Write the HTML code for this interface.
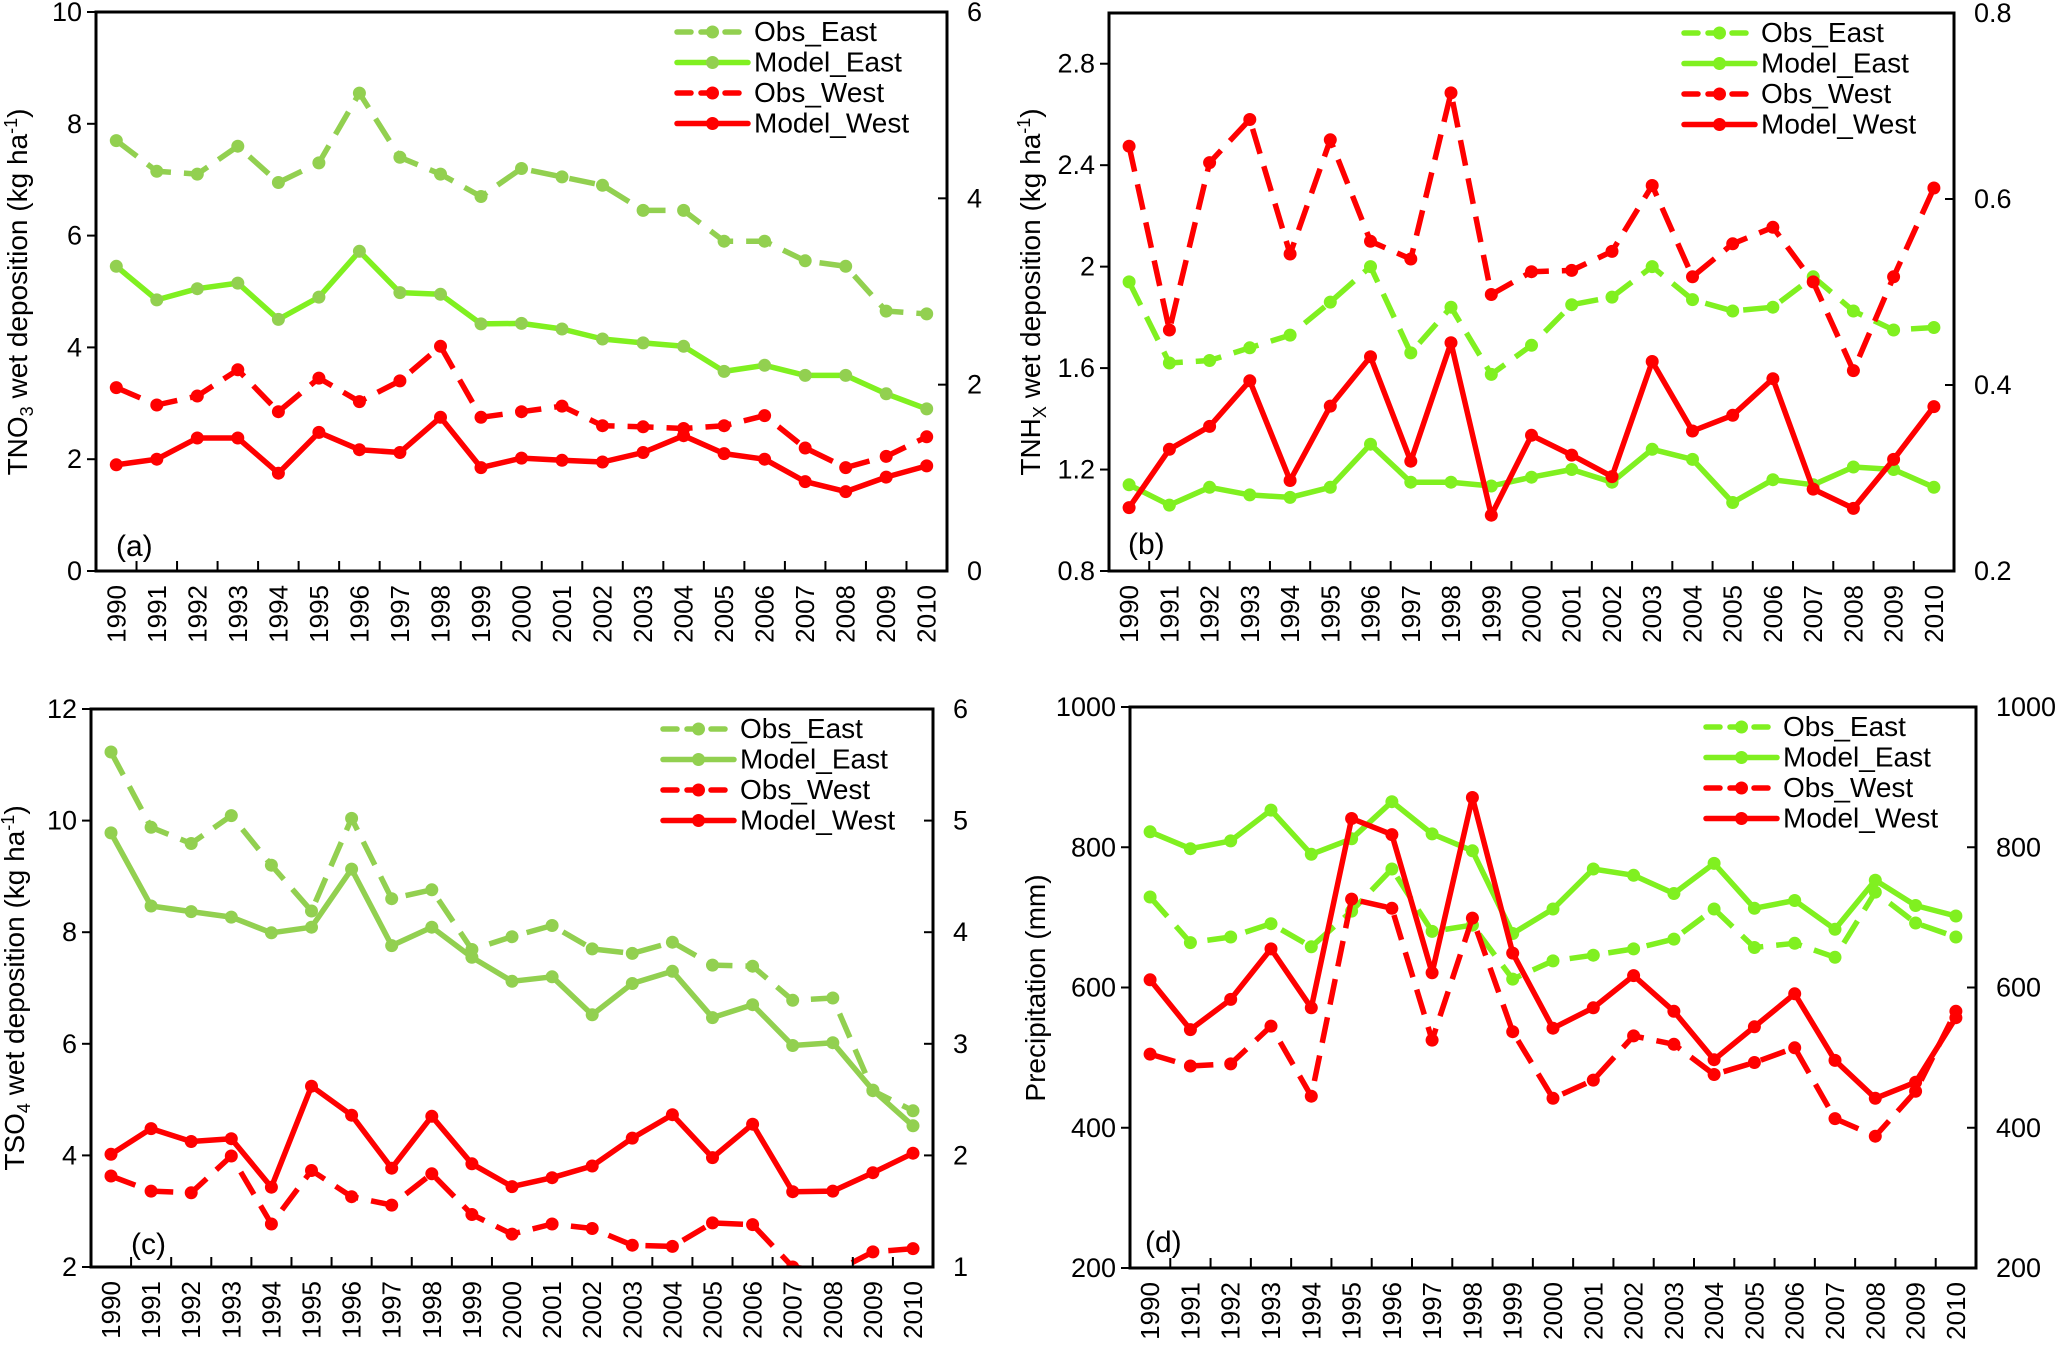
<!DOCTYPE html>
<html><head><meta charset="utf-8"><style>
html,body{margin:0;padding:0;background:#fff}
svg{display:block;font-family:"Liberation Sans",Arial,sans-serif}
</style></head><body>
<svg id="fig" width="2067" height="1348" viewBox="0 0 2067 1348" xmlns="http://www.w3.org/2000/svg"></svg>
<script>
const years = ["1990","1991","1992","1993","1994","1995","1996","1997","1998","1999","2000","2001","2002","2003","2004","2005","2006","2007","2008","2009","2010"];
const seriesNames = ["Obs_East","Model_East","Obs_West","Model_West"];
// Panel (a) TNO3
const aObsEast   = [7.7,7.15,7.1,7.6,6.95,7.3,8.55,7.4,7.1,6.7,7.2,7.05,6.9,6.45,6.45,5.9,5.9,5.55,5.45,4.65,4.6];
const aModelEast = [5.45,4.85,5.05,5.15,4.5,4.9,5.72,4.98,4.95,4.42,4.43,4.33,4.15,4.08,4.02,3.57,3.68,3.5,3.5,3.17,2.9];
const aObsWest   = [3.28,2.97,3.13,3.6,2.85,3.45,3.03,3.4,4.02,2.75,2.85,2.95,2.6,2.58,2.55,2.6,2.78,2.2,1.85,2.05,2.4];
const aModelWest = [1.9,2.0,2.38,2.38,1.75,2.48,2.17,2.12,2.75,1.85,2.02,1.98,1.95,2.12,2.42,2.1,2.0,1.6,1.42,1.68,1.88];
const aLeftTicks = ["0","2","4","6","8","10"];
const aRightTicks = ["0","2","4","6"];
// Panel (b) TNHx
const bObsEast   = [1.94,1.62,1.63,1.68,1.73,1.86,2.0,1.66,1.84,1.575,1.69,1.85,1.88,2.0,1.87,1.825,1.84,1.96,1.825,1.75,1.76];
const bModelEast = [1.14,1.06,1.13,1.10,1.09,1.13,1.30,1.15,1.15,1.135,1.17,1.2,1.15,1.28,1.24,1.07,1.16,1.14,1.21,1.2,1.13];
const bObsWest   = [2.475,1.75,2.41,2.58,2.05,2.5,2.1,2.03,2.685,1.89,1.98,1.985,2.06,2.32,1.96,2.09,2.155,1.94,1.59,1.96,2.31];
const bModelWest = [1.05,1.28,1.37,1.55,1.157,1.45,1.645,1.233,1.70,1.02,1.335,1.257,1.172,1.626,1.352,1.414,1.558,1.123,1.047,1.24,1.448];
const bLeftTicks = ["0.8","1.2","1.6","2","2.4","2.8"];
const bRightTicks = ["0.2","0.4","0.6","0.8"];
// Panel (c) TSO4
const cObsEast   = [11.23,9.88,9.59,10.09,9.2,8.38,10.04,8.6,8.76,7.69,7.92,8.12,7.7,7.62,7.82,7.41,7.39,6.78,6.82,5.16,4.8];
const cModelEast = [9.78,8.47,8.37,8.27,7.99,8.09,9.13,7.76,8.09,7.55,7.12,7.2,6.52,7.08,7.3,6.47,6.7,5.97,6.02,5.17,4.53];
const cObsWest   = [3.63,3.36,3.33,3.99,2.77,3.73,3.26,3.11,3.67,2.94,2.59,2.77,2.69,2.39,2.37,2.79,2.76,2.0,1.9,2.27,2.33];
const cModelWest = [4.02,4.48,4.25,4.3,3.43,5.24,4.72,3.77,4.7,3.85,3.44,3.6,3.81,4.31,4.73,3.96,4.56,3.35,3.36,3.69,4.04];
const cLeftTicks = ["2","4","6","8","10","12"];
const cRightTicks = ["1","2","3","4","5","6"];
// Panel (d) Precipitation
const dObsEast   = [729,664,672,691,658,709,769,680,689,612,638,646,655,669,712,657,663,643,736,692,672];
const dModelEast = [822,798,809,853,790,812,865,819,795,677,712,769,760,734,777,713,724,683,753,717,702];
const dObsWest   = [505,488,491,545,445,726,713,525,699,537,442,468,531,519,476,493,514,413,388,452,566];
const dModelWest = [611,540,583,655,571,841,818,621,871,649,542,571,617,566,497,544,591,496,442,465,557];
const dLeftTicks = ["200","400","600","800","1000"];
const dRightTicks = ["200","400","600","800","1000"];

const NS = "http://www.w3.org/2000/svg";
const fig = document.getElementById("fig");
function mk(tag, attrs, parent){
  const e = document.createElementNS(NS, tag);
  for (const k in attrs) e.setAttribute(k, attrs[k]);
  (parent||fig).appendChild(e);
  return e;
}
const RED = "#ff0000";
function panel(p){
  const g = mk("g", {});
  
  
  const L=p.L, R=p.R, T=p.T, B=p.B;
  const n = years.length, bw = (R-L)/n;
  const xs = i => L + bw*(i+0.5);
  const ys = v => B - (v - p.ymin)/(p.ymax - p.ymin)*(B-T);
  const clip = mk("clipPath", {id:"clip"+p.id}, g);
  mk("rect", {x:L, y:T-8, width:R-L, height:B-T+8}, clip);
  const series = [p.obsE, p.modE, p.obsW, p.modW];
  const cols = [p.cObsE, p.cModE, RED, RED];
  const mcols = [p.cObsE, p.mModE, RED, RED];
  const dashed = [true,false,true,false];
  const sg = mk("g", {"clip-path":"url(#clip"+p.id+")"}, g);
  for (let s=0;s<4;s++){
    const d = series[s].map((v,i)=>(i?"L":"M")+xs(i).toFixed(1)+","+ys(v).toFixed(1)).join("");
    const path = mk("path", {d:d, fill:"none", stroke:cols[s], "stroke-width":5.5, "stroke-linejoin":"round",
      "stroke-dasharray": dashed[s] ? "26,13" : "none"}, sg);
    
    
    series[s].forEach((v,i)=>{
      const c = mk("circle", {cx:xs(i).toFixed(1), cy:ys(v).toFixed(1), r:6.5, fill:mcols[s]}, sg);
      
      
    });
  }
  const fr = mk("rect", {x:L, y:T, width:R-L, height:B-T, fill:"none", stroke:"#000", "stroke-width":3}, g);
  
  
  for (let i=1;i<n;i++) mk("line",{x1:L+bw*i,x2:L+bw*i,y1:B,y2:B-10,stroke:"#000","stroke-width":2},g);
  years.forEach((y,i)=>{
    const t = mk("text",{x:0,y:0,"font-size":26,"text-anchor":"end",transform:"translate("+(xs(i)+9).toFixed(1)+","+(B+14)+") rotate(-90)"},g);
    t.textContent = y;
    
    
  });
  p.lt.forEach(lab=>{
    const yy = ys(parseFloat(lab));
    mk("line",{x1:L-9,x2:L,y1:yy,y2:yy,stroke:"#000","stroke-width":2},g);
    const t = mk("text",{x:L-14,y:yy+9,"font-size":27,"text-anchor":"end"},g);
    t.textContent = lab;
    
    
  });
  p.rt.forEach(lab=>{
    const yy = B - (parseFloat(lab)-p.rmin)/(p.rmax-p.rmin)*(B-T);
    mk("line",{x1:R-9,x2:R,y1:yy,y2:yy,stroke:"#000","stroke-width":2},g);
    const t = mk("text",{x:R+20,y:yy+9,"font-size":27,"text-anchor":"start"},g);
    t.textContent = lab;
    
    
  });
  const yt = mk("text",{x:0,y:0,"font-size":28,"text-anchor":"middle",transform:"translate("+p.tx+","+p.ty+") rotate(-90)"},g);
  yt.innerHTML = p.title;
  
  
  const pl = mk("text",{x:p.lx,y:p.ly,"font-size":30},g);
  pl.textContent = "(" + p.id + ")";
  
  
  const lgX1 = R - 270, lgX2 = R - 199, txX = R - 193;
  for (let s=0;s<4;s++){
    const yy = T + 20 + s*30.5;
    const le = mk("g",{},g);
    
    
    mk("line",{x1:lgX1,x2:lgX2,y1:yy,y2:yy,stroke:cols[s],"stroke-width":5.5,"stroke-linecap":"round","stroke-dasharray":dashed[s]?"14,10":"none"},le);
    mk("circle",{cx:(lgX1+lgX2)/2,cy:yy,r:6.5,fill:mcols[s]},le);
    const t = mk("text",{x:txX,y:yy+9,"font-size":28},le);
    t.textContent = seriesNames[s];
  }
}
const LG = "#92d050", BG = "#80f020";
panel({id:"a", L:96, R:947, T:12, B:571, ymin:0, ymax:10, rmin:0, rmax:6,
  obsE:aObsEast, modE:aModelEast, obsW:aObsWest, modW:aModelWest, lt:aLeftTicks, rt:aRightTicks,
  cObsE:LG, cModE:BG, mModE:LG, tx:27, ty:292, lx:116, ly:556,
  title:'TNO<tspan font-size="18" dy="6">3</tspan><tspan dy="-6"> wet deposition (kg ha</tspan><tspan font-size="18" dy="-10">-1</tspan><tspan dy="10">)</tspan>'});
panel({id:"b", L:1109, R:1954, T:13, B:571, ymin:0.8, ymax:3.0, rmin:0.2, rmax:0.8,
  obsE:bObsEast, modE:bModelEast, obsW:bObsWest, modW:bModelWest, lt:bLeftTicks, rt:bRightTicks,
  cObsE:BG, cModE:BG, mModE:BG, tx:1040, ty:292, lx:1128, ly:554,
  title:'TNH<tspan font-size="18" dy="6">X</tspan><tspan dy="-6"> wet deposition (kg ha</tspan><tspan font-size="18" dy="-10">-1</tspan><tspan dy="10">)</tspan>'});
panel({id:"c", L:91, R:933, T:709, B:1267, ymin:2, ymax:12, rmin:1, rmax:6,
  obsE:cObsEast, modE:cModelEast, obsW:cObsWest, modW:cModelWest, lt:cLeftTicks, rt:cRightTicks,
  cObsE:LG, cModE:LG, mModE:LG, tx:24, ty:988, lx:131, ly:1254,
  title:'TSO<tspan font-size="18" dy="6">4</tspan><tspan dy="-6"> wet deposition (kg ha</tspan><tspan font-size="18" dy="-10">-1</tspan><tspan dy="10">)</tspan>'});
panel({id:"d", L:1130, R:1976, T:707, B:1268, ymin:200, ymax:1000, rmin:200, rmax:1000,
  obsE:dObsEast, modE:dModelEast, obsW:dObsWest, modW:dModelWest, lt:dLeftTicks, rt:dRightTicks,
  cObsE:BG, cModE:BG, mModE:BG, tx:1045, ty:988, lx:1145, ly:1252,
  title:'Precipitation (mm)'});
</script>
</body></html>
